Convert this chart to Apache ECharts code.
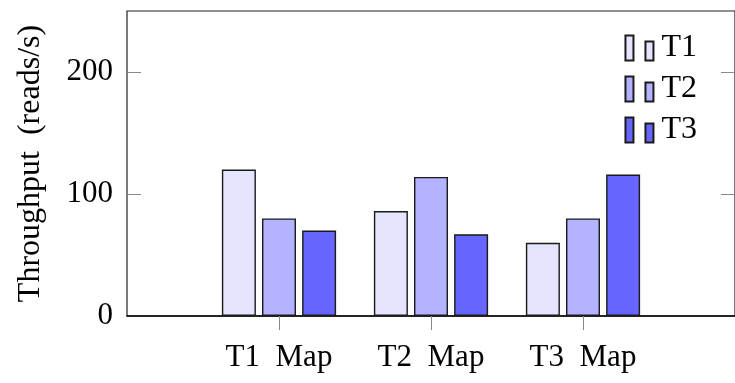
<!DOCTYPE html>
<html>
<head>
<meta charset="utf-8">
<script src="https://cdn.jsdelivr.net/npm/echarts@6/dist/echarts.min.js"></script>
<style>
  html, body { margin: 0; padding: 0; background: #fff; }
  #chart { width: 735px; height: 383px; }
</style>
</head>
<body>
<div id="chart"></div>
<script>
// Throughput per map type, grouped by thread count
const categories = ['T1 Map', 'T2 Map', 'T3 Map'];
const seriesNames = ['T1', 'T2', 'T3'];
const valuesT1 = [120, 86, 60];
const valuesT2 = [80, 114, 80];
const valuesT3 = [70, 67, 116];
const yLabels = [0, 100, 200];
const yTicks = [100, 200];
const colors = ['#e5e5ff', '#b3b3ff', '#6666ff'];

// pad the category axis with an empty slot on each side (enlarged x limits)
const axisCats = [''].concat(categories, ['']);
const pad = v => ['-'].concat(v, ['-']);
const allValues = [valuesT1, valuesT2, valuesT3];

const FONT = '"Liberation Serif", "Times New Roman", serif';
const tickColor = '#8a8a8a';
const lineColor = '#222';
const wide = s => s.replace(' ', '\u2002');

// legend glyph: two small bars of unequal height
const legendIcon = 'path://M0,0h8v25h-8Z M20,6h8v19h-8Z';

const chart = echarts.init(document.getElementById('chart'), null, { renderer: 'canvas' });

const hideEnds = (i) => i > 0 && i < axisCats.length - 1;

chart.setOption({
  animation: false,
  backgroundColor: '#fff',
  textStyle: { fontFamily: FONT },
  grid: {
    left: 127, right: -3, top: 11, bottom: 67,
    show: true, borderColor: lineColor, borderWidth: 1.2, backgroundColor: 'transparent'
  },
  legend: {
    orient: 'vertical',
    right: 33, top: 27,
    itemWidth: 28, itemHeight: 25, itemGap: 9,
    icon: legendIcon,
    textStyle: { fontFamily: FONT, fontSize: 32, color: '#000', padding: [0, 0, 0, 3] },
    data: seriesNames
  },
  xAxis: [
    {
      type: 'category', data: axisCats, boundaryGap: false, position: 'bottom',
      axisLine: { show: true, lineStyle: { color: '#000', width: 1.5 } },
      axisTick: { show: true, inside: false, length: 14, interval: hideEnds, lineStyle: { color: tickColor, width: 1 } },
      axisLabel: { interval: hideEnds, margin: 26, fontFamily: FONT, fontSize: 31, color: '#000', formatter: wide },
      splitLine: { show: false }
    },
    {
      type: 'category', data: axisCats, boundaryGap: false, position: 'top',
      axisLine: { show: false },
      axisTick: { show: true, inside: false, length: 14, interval: hideEnds, lineStyle: { color: tickColor, width: 1 } },
      axisLabel: { show: false },
      splitLine: { show: false }
    }
  ],
  yAxis: [
    {
      type: 'value', min: 0, max: 250, position: 'left',
      name: wide('Throughput (reads/s)'), nameLocation: 'middle', nameGap: 80,
      nameTextStyle: { fontFamily: FONT, fontSize: 32, color: '#000' },
      axisLine: { show: false },
      axisTick: { show: true, inside: true, length: 14, customValues: yTicks, lineStyle: { color: tickColor, width: 1 } },
      axisLabel: { customValues: yLabels, margin: 14, fontFamily: FONT, fontSize: 31, color: '#000' },
      splitLine: { show: false }
    },
    {
      type: 'value', min: 0, max: 250, position: 'right',
      axisLine: { show: false },
      axisTick: { show: true, inside: true, length: 14, customValues: yTicks, lineStyle: { color: tickColor, width: 1 } },
      axisLabel: { show: false },
      splitLine: { show: false }
    }
  ],
  series: seriesNames.map((name, i) => ({
    name: name,
    type: 'bar',
    xAxisIndex: 0, yAxisIndex: 0,
    data: pad(allValues[i]),
    barWidth: 34,
    barGap: '18%',
    itemStyle: { color: colors[i], borderColor: '#1a1a1a', borderWidth: 1.4 },
    emphasis: { disabled: true }
  }))
});
</script>
</body>
</html>
